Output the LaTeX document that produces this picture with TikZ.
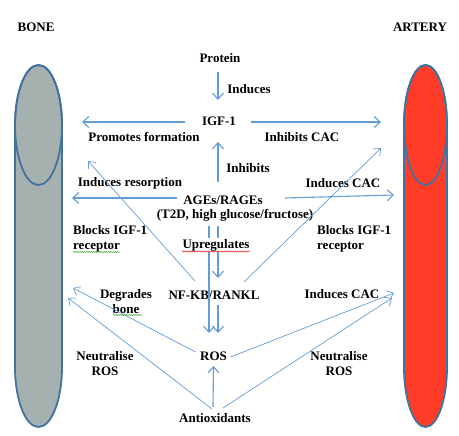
\documentclass[tikz,border=0pt]{standalone}
\usepackage{fontspec}
\setmainfont{Liberation Serif}
\usetikzlibrary{arrows.meta,calc,decorations.pathmorphing}
\definecolor{arrblue}{RGB}{100,156,212}
\definecolor{edgeblue}{RGB}{66,114,158}
\definecolor{bonegray}{RGB}{165,177,175}
\definecolor{artred}{RGB}{255,60,40}
\definecolor{spellgreen}{RGB}{70,170,70}
\definecolor{spellred}{RGB}{230,40,40}
\begin{document}
\begin{tikzpicture}[x=1pt,y=-1pt,
  lbl/.style={font=\bfseries\fontsize{13}{15}\selectfont, inner sep=0pt, text=black},
  arr/.style={draw=arrblue, line width=1.1pt, -{Straight Barb[length=6pt,width=11pt]}},
  thinarr/.style={draw=arrblue, line width=0.7pt, -{Straight Barb[length=6pt,width=10pt]}},
  organ/.style={draw=edgeblue, line width=1.8pt},
  wavy/.style={line width=0.5pt, decorate, decoration={snake, amplitude=0.6pt, segment length=2.2pt}}]
\useasboundingbox (0,0) rectangle (459,436);

% organs
\filldraw[organ, fill=bonegray] (15,125) -- (15,367)
  arc[start angle=180, end angle=360, x radius=23.5pt, y radius=60pt] -- (62,125)
  arc[start angle=0, end angle=180, x radius=23.5pt, y radius=60pt] -- cycle;
\draw[organ] (38.5,125) ellipse [x radius=23.5pt, y radius=60pt];
\filldraw[organ, fill=artred] (404,125) -- (404,367)
  arc[start angle=180, end angle=360, x radius=21.5pt, y radius=60pt] -- (447,125)
  arc[start angle=0, end angle=180, x radius=21.5pt, y radius=60pt] -- cycle;
\draw[organ] (425.5,125) ellipse [x radius=21.5pt, y radius=60pt];

% titles
\node[lbl] (bone) at (36,27) {BONE};
\node[lbl] (artery) at (420,27) {ARTERY};

% main nodes
\node[lbl] (protein) at (220,58) {Protein};
\node[lbl] (igf) at (219,121) {IGF-1};
\node[lbl] (ages) at (223,200) {AGEs/RAGEs};
\node[lbl] (agesb) at (235,215) {(T2D, high glucose/fructose)};
\node[lbl] (nfkb) at (214,295) {NF-KB/RANKL};
\node[lbl] (ros) at (213.5,356) {ROS};
\node[lbl] (anti) at (215,418) {Antioxidants};

% free ends
\coordinate (igfL) at (82,122);
\coordinate (igfR) at (381,122);
\coordinate (agesL) at (72,198);
\coordinate (agesR) at (394,195);
\coordinate (nfL) at (88,161);
\coordinate (nfR) at (381,148);
\coordinate (rosL) at (73,288);
\coordinate (antiL) at (68,298);
\coordinate (rosR) at (394,293);
\coordinate (antiR) at (392,298);

% labels
\node[lbl] (induces) at (249,89) {Induces};
\node[lbl] (promotes) at (144,137) {Promotes formation};
\node[lbl] (inhcac) at (302,137) {Inhibits CAC};
\node[lbl] (inhibits) at (248,168) {Inhibits};
\node[lbl] (resorp) at (130,183) {Induces resorption};
\node[lbl] (indcac1) at (343,183) {Induces CAC};
\node[lbl, anchor=west, align=left] (blockL) at (73,238.5) {Blocks IGF-1\\receptor};
\node[lbl, anchor=west, align=left] (blockR) at (317,238.5) {Blocks IGF-1\\receptor};
\node[lbl, align=center] (degr) at (126,302) {Degrades\\bone};
\node[lbl] (indcac2) at (342,294) {Induces CAC};
\node[lbl, align=center] (neutL) at (105,363.5) {Neutralise\\ROS};
\node[lbl, align=center] (neutR) at (339,363.5) {Neutralise\\ROS};

% arrows
\draw[arr] ($(protein)+(-2,14)$) -- ($(igf)+(-1,-21)$);
\draw[arr] ($(igf)+(-34,1)$) -- (igfL);
\draw[arr] ($(igf)+(32,1)$) -- (igfR);
\draw[arr] ($(ages)+(-5,-18)$) -- ($(igf)+(-1,21)$);
\draw[arr] ($(ages)+(-46,-2)$) -- (agesL);
\draw[arr] ($(ages)+(62,-2)$) -- (agesR);
\draw[arr] ($(agesb)+(-17,11)$) -- ($(nfkb)+(4,-17)$);
\draw[arr] ($(agesb)+(-26,11)$) -- ($(ros)+(-4.5,-23)$);
\draw[arr] ($(nfkb)+(4,10)$) -- ($(ros)+(4.5,-23)$);
\draw[thinarr] ($(nfkb)+(-19,-14)$) -- (nfL);
\draw[thinarr] ($(nfkb)+(30,-13)$) -- (nfR);
\draw[thinarr] ($(ros)+(-18,-4)$) -- (rosL);
\draw[thinarr] ($(anti)+(-3,-9)$) -- (antiL);
\draw[thinarr] ($(ros)+(17,1)$) -- (rosR);
\draw[thinarr] ($(anti)+(8,-10)$) -- (antiR);
\draw[arr] ($(anti)+(-2,-11)$) -- ($(ros)+(0,10)$);

% label drawn over the vertical lines
\node[lbl, fill=white, inner sep=1pt] (upreg) at (216,245) {Upregulates};

% spell-check underlines
\draw[wavy, spellgreen] (73,252) -- (120,252);
\draw[wavy, spellred] (182,251.5) -- (250,251.5);
\draw[wavy, spellgreen] (113,315) -- (142,315);
\end{tikzpicture}
\end{document}
